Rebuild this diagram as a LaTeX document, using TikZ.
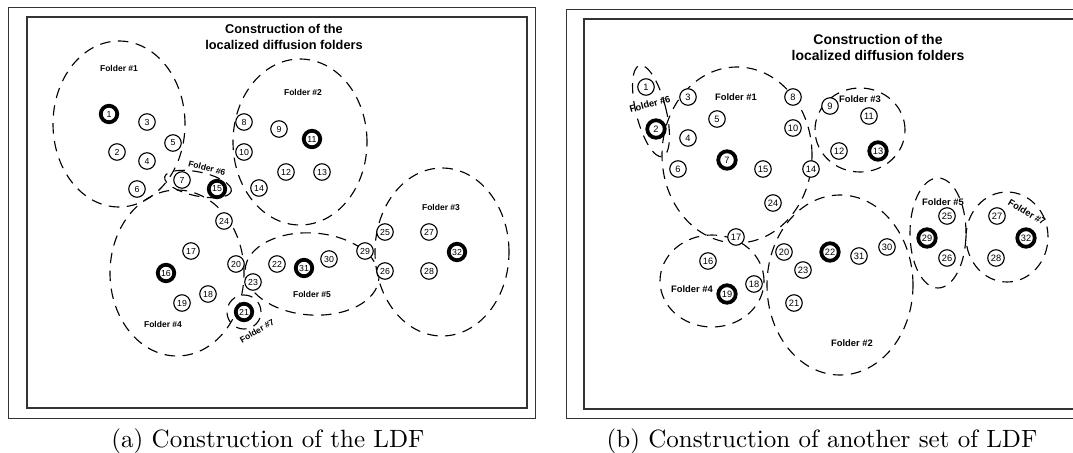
\documentclass[tikz,border=0pt]{standalone}
\usepackage{fontspec}
\newfontfamily\arialfont{Liberation Sans}
\usetikzlibrary{shapes.geometric}
\tikzset{vtx/.style={draw,fill=white,circle,line width=0.45pt,inner sep=0pt,minimum size=6.6pt,font=\arialfont\fontsize{3.5}{4}\selectfont}}
\tikzset{head/.style={vtx,line width=1.5pt}}
\tikzset{folder/.style={draw,ellipse,dash pattern=on 4.2pt off 3pt,line width=0.45pt,inner sep=0pt}}
\tikzset{flabel/.style={font=\arialfont\bfseries\fontsize{3.4}{4}\selectfont}}
\tikzset{ttl/.style={align=center,font=\arialfont\bfseries\fontsize{5.1}{6.4}\selectfont}}
\tikzset{panelframe/.style={draw=black!80,line width=#1}}

\begin{document}
\begin{tikzpicture}[x=0.4pt, y=-0.4pt]
\useasboundingbox (0,0) rectangle (1073,453);
\clip (0,0) rectangle (1073,453);

% (a) first set of folders
\draw[panelframe=0.4pt] (8,7) rectangle (535,418);
\draw[panelframe=0.8pt] (27,17) rectangle (527,408);
\node[ttl] (ta) at (284,37) {Construction of the\\localized diffusion folders};

\node[folder, minimum width=52.8pt, minimum height=66.4pt] (fa1) at (119,124) {};
\node[folder, minimum width=53.6pt, minimum height=66.4pt] (fa2) at (300,142) {};
\node[folder, minimum width=53.6pt, minimum height=67.2pt] (fa3) at (442,252) {};
\node[folder, minimum width=53.6pt, minimum height=66.4pt] (fa4) at (177,273) {};
\node[folder, minimum width=53.6pt, minimum height=32.8pt, rotate=-4] (fa5) at (312,274) {};
\node[folder, minimum width=27.2pt, minimum height=9.6pt, rotate=-12] (fa6) at (198,184) {};
\node[folder, minimum width=13.6pt, minimum height=13.6pt] (fa7) at (244,312) {};

\node[flabel] (la1) at (119,68) {Folder \#1};
\node[flabel] (la2) at (303,92) {Folder \#2};
\node[flabel] (la3) at (441,207) {Folder \#3};
\node[flabel] (la4) at (163,324) {Folder \#4};
\node[flabel] (la5) at (312,294) {Folder \#5};
\node[flabel, rotate=-15] (la6) at (207,168) {Folder \#6};
\node[flabel, rotate=30] (la7) at (257,331) {Folder \#7};

\foreach \n/\x/\y in {3/147/122, 5/173/143, 2/117/152, 4/147/161, 6/137/189,
  7/182/180, 8/244/122, 10/244/152, 14/259/188, 9/279/129, 12/286/172,
  13/322/172, 24/224/221, 17/191/251, 20/236/264, 22/277/264, 30/329/259,
  29/365/251, 25/385/232, 26/385/271, 23/253/282, 18/208/294, 19/182/303,
  27/429/232, 28/429/271}
  \node[vtx] (a\n) at (\x,\y) {\n};
\foreach \n/\x/\y in {1/109/114, 15/217/189, 11/312/139, 16/166/273,
  31/304/268, 21/244/312, 32/457/252}
  \node[head] (a\n) at (\x,\y) {\n};

\node[anchor=base] (ca) at (268,447) {(a) Construction of the LDF};

% (b) another set of folders
\draw[panelframe=0.4pt] (566,9) rectangle (1090,418);
\draw[panelframe=0.8pt] (584,19) rectangle (1090,409);
\node[ttl, font=\arialfont\bfseries\fontsize{5.6}{6.4}\selectfont] (tb) at (878,47) {Construction of the\\localized diffusion folders};

\begin{scope}[vtx/.append style={font=\arialfont\fontsize{3.7}{4}\selectfont},
  flabel/.append style={font=\arialfont\bfseries\fontsize{3.75}{4}\selectfont}]
\node[folder, minimum width=60pt, minimum height=70.4pt] (fb1) at (737,155) {};
\node[folder, minimum width=58.4pt, minimum height=72pt] (fb2) at (840,285) {};
\node[folder, minimum width=36pt, minimum height=33.6pt] (fb3) at (860,130) {};
\node[folder, minimum width=41.6pt, minimum height=36.8pt] (fb4) at (712,281) {};
\node[folder, minimum width=22.4pt, minimum height=44pt] (fb5) at (938,233) {};
\node[folder, minimum width=12pt, minimum height=37.6pt, rotate=14] (fb6) at (651,111) {};
\node[folder, minimum width=32.8pt, minimum height=36pt] (fb7) at (1007,237) {};

\node[flabel] (lb1) at (736,97) {Folder \#1};
\node[flabel] (lb2) at (852,343) {Folder \#2};
\node[flabel] (lb3) at (860,99) {Folder \#3};
\node[flabel] (lb4) at (692,289) {Folder \#4};
\node[flabel] (lb5) at (943,202) {Folder \#5};
\node[flabel, rotate=15] (lb6) at (650,104) {Folder \#6};
\node[flabel, rotate=-31] (lb7) at (1027,212) {Folder \#7};

\foreach \n/\x/\y in {1/646/87, 3/688/97, 5/717/119, 4/688/138, 6/678/169,
  15/763/169, 8/793/97, 10/793/128, 14/811/169, 24/773/203, 9/830/106,
  11/869/116, 12/839/151, 17/736/237, 16/708/261, 18/754/284, 20/784/252,
  23/803/270, 21/794/303, 31/859/256, 30/887/247, 25/947/216, 26/947/258,
  27/997/216, 28/996/258}
  \node[vtx] (b\n) at (\x,\y) {\n};
\foreach \n/\x/\y in {2/656/129, 7/727/160, 13/878/151, 19/727/294,
  22/830/252, 29/927/238, 32/1026/238}
  \node[head, minimum size=7pt] (b\n) at (\x,\y) {\n};
\end{scope}

\node[anchor=base] (cb) at (822,447) {(b) Construction of another set of LDF};
\end{tikzpicture}
\end{document}
